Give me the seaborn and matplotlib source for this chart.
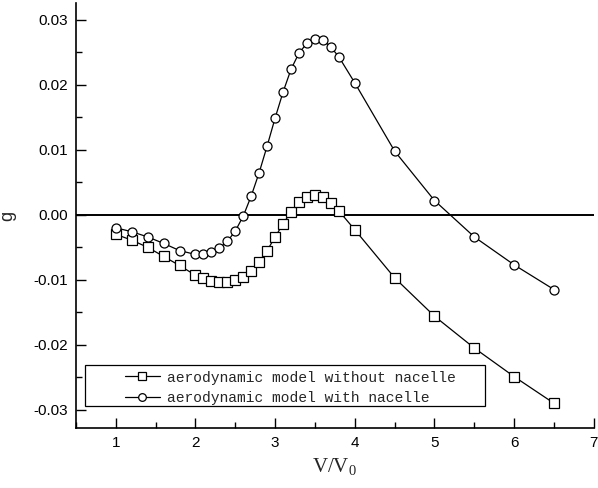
import numpy as np
import pandas as pd
import seaborn as sns
import matplotlib
matplotlib.use("Agg")
import matplotlib.pyplot as plt
from matplotlib.patches import Rectangle
from matplotlib.ticker import MultipleLocator

# ── Data ─────────────────────────────────────────────────────────────────────
v_ratio = [1.0, 1.2, 1.4, 1.6, 1.8, 2.0, 2.1, 2.2, 2.3, 2.4, 2.5, 2.6, 2.7, 2.8,
           2.9, 3.0, 3.1, 3.2, 3.3, 3.4, 3.5, 3.6, 3.7, 3.8, 4.0, 4.5, 5.0, 5.5,
           6.0, 6.5]

g_without = [-0.0030, -0.0039, -0.0050, -0.0064, -0.0078, -0.0093, -0.0098,
             -0.0102, -0.0103, -0.0103, -0.0100, -0.0095, -0.0086, -0.0072,
             -0.0055, -0.0034, -0.0014, 0.0005, 0.0020, 0.0028, 0.0030, 0.0027,
             0.0018, 0.0006, -0.0023, -0.0097, -0.0156, -0.0205, -0.0249,
             -0.0290]

g_with = [-0.0020, -0.0026, -0.0034, -0.0044, -0.0055, -0.0061, -0.0061,
          -0.0057, -0.0051, -0.0041, -0.0025, -0.0002, 0.0029, 0.0065, 0.0106,
          0.0149, 0.0189, 0.0224, 0.0249, 0.0264, 0.0271, 0.0269, 0.0258,
          0.0243, 0.0203, 0.0098, 0.0022, -0.0034, -0.0077, -0.0115]

labels = ["aerodynamic model without nacelle", "aerodynamic model with nacelle"]

df = pd.DataFrame({
    "V": v_ratio * 2,
    "g": g_without + g_with,
    "model": [labels[0]] * len(v_ratio) + [labels[1]] * len(v_ratio),
})

# ── Style ─────────────────────────────────────────────────────────────────────
sns.set_style("ticks")
plt.rcParams["font.family"] = ["Liberation Sans", "DejaVu Sans"]
plt.rcParams["mathtext.default"] = "regular"

fig = plt.figure(figsize=(5.98, 4.88), dpi=100)
ax = fig.add_axes([0.127, 0.123, 0.866, 0.871])

ax.axhline(0, color="black", lw=1.4, zorder=1)

sns.lineplot(data=df, x="V", y="g", hue="model", style="model",
             markers={labels[0]: "s", labels[1]: "o"}, dashes=False,
             palette={labels[0]: "black", labels[1]: "black"},
             lw=0.9, markersize=6.5, markerfacecolor="white",
             markeredgecolor="black", markeredgewidth=0.9,
             ax=ax, zorder=3)

ax.set_xlim(0.5, 7.0)
ax.set_ylim(-0.0328, 0.0326)
ax.xaxis.set_major_locator(MultipleLocator(1))
ax.xaxis.set_minor_locator(MultipleLocator(0.5))
ax.yaxis.set_major_locator(MultipleLocator(0.01))
ax.yaxis.set_minor_locator(MultipleLocator(0.005))
ax.tick_params(which="both", direction="in", width=1, colors="black",
               labelsize=11, pad=6)
ax.tick_params(which="major", length=7)
ax.tick_params(which="minor", length=4)
ax.set_yticklabels([f"{t:.2f}" for t in ax.get_yticks()])
ax.set_xticklabels([f"{t:g}" for t in ax.get_xticks()])

for side in ["top", "right"]:
    ax.spines[side].set_visible(False)
for side in ["left", "bottom"]:
    ax.spines[side].set_linewidth(1.2)
    ax.spines[side].set_color("black")

ax.set_xlabel("V/V$_0$", fontsize=15, family=["Liberation Serif"], labelpad=4)
ax.set_ylabel("g", fontsize=13, labelpad=12)

# legend frame is wider than its content in the original, so draw it apart
ax.add_patch(Rectangle((0.0174, 0.052), 0.772, 0.096, transform=ax.transAxes,
                       fill=False, ec="black", lw=0.9, zorder=4))
leg = ax.legend(loc="upper left", bbox_to_anchor=(0.094, 0.135),
                prop={"family": "Liberation Mono", "size": 10.5},
                frameon=False, handlelength=2.4, borderpad=0,
                labelspacing=0.47, handletextpad=0.5, borderaxespad=0,
                markerscale=0.85)

fig.savefig("out.png", dpi=100)
